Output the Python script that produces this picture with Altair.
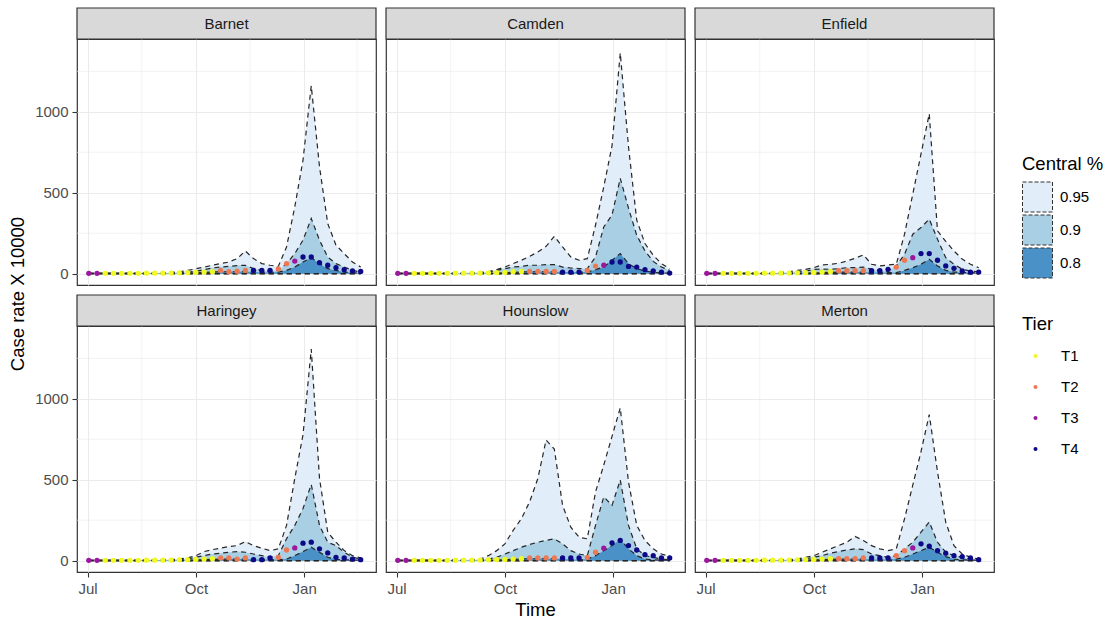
import altair as alt
import pandas as pd

BOROUGHS = ["Barnet", "Camden", "Enfield", "Haringey", "Hounslow", "Merton"]

DATES = ["2020-07-02", "2020-07-09", "2020-07-16", "2020-07-23", "2020-07-30",
         "2020-08-06", "2020-08-13", "2020-08-20", "2020-08-27",
         "2020-09-03", "2020-09-10", "2020-09-17", "2020-09-24",
         "2020-10-01", "2020-10-08", "2020-10-15", "2020-10-22", "2020-10-29",
         "2020-11-05", "2020-11-12", "2020-11-19", "2020-11-26",
         "2020-12-03", "2020-12-10", "2020-12-17", "2020-12-24", "2020-12-31",
         "2021-01-07", "2021-01-14", "2021-01-21", "2021-01-28",
         "2021-02-04", "2021-02-11", "2021-02-18"]

TIERS = (["T3", "T3"] + ["T1"] * 14 + ["T2"] * 4 + ["T4"] * 3
         + ["T2"] * 2 + ["T3"] + ["T4"] * 8)

LOWER = 0

BARNET_OBS = [2, 2, 2, 2, 2, 2, 2, 3, 3, 3, 4, 5, 6, 8, 10, 12,
              20, 12, 15, 20, 20, 20, 20,
              29, 62, 78, 103, 103, 68, 52, 37, 25, 17, 14]
BARNET_Q95 = [3, 3, 3, 3, 3, 3, 3, 4, 5, 6, 8, 12, 20, 30, 41, 52,
              62, 72, 93, 140, 93, 62, 52,
              45, 165, 413, 702, 1161, 661, 310, 176, 124, 72, 41]
BARNET_Q90 = [2, 2, 2, 2, 2, 2, 2, 2, 3, 3, 4, 5, 8, 15, 25, 35,
              41, 45, 50, 52, 31, 20, 16,
              20, 62, 124, 207, 341, 207, 103, 62, 41, 20, 10]
BARNET_Q80 = [1, 1, 1, 1, 1, 1, 1, 1, 2, 2, 2, 3, 4, 6, 8, 10,
              12, 12, 12, 12, 10, 8, 8,
              10, 20, 41, 72, 99, 62, 31, 20, 10, 5, 4]

CAMDEN_OBS = [2, 2, 2, 2, 2, 2, 2, 3, 3, 3, 4, 5, 6, 8, 12, 14,
              14, 14, 14, 14, 10, 10, 10,
              20, 47, 52, 72, 72, 45, 41, 25, 17, 10, 4]
CAMDEN_Q95 = [3, 3, 3, 3, 3, 3, 3, 4, 5, 6, 8, 12, 25, 41, 62, 83,
              107, 134, 169, 231, 165, 103, 83,
              93, 300, 537, 790, 1364, 785, 331, 186, 114, 62, 31]
CAMDEN_Q90 = [2, 2, 2, 2, 2, 2, 2, 3, 3, 4, 5, 8, 20, 31, 41, 45,
              52, 52, 56, 56, 41, 35, 31,
              31, 103, 289, 362, 589, 405, 237, 140, 76, 41, 20]
CAMDEN_Q80 = [1, 1, 1, 1, 1, 1, 1, 1, 2, 2, 2, 3, 4, 6, 8, 10,
              12, 12, 12, 12, 10, 10, 10,
              10, 25, 41, 83, 124, 62, 31, 17, 8, 5, 3]

ENFIELD_OBS = [2, 2, 2, 2, 2, 2, 2, 3, 3, 3, 4, 5, 6, 8, 10, 12,
               18, 18, 18, 18, 18, 18, 27,
               41, 83, 99, 124, 124, 83, 48, 33, 17, 10, 10]
ENFIELD_Q95 = [3, 3, 3, 3, 3, 3, 3, 4, 5, 8, 12, 20, 27, 37, 54, 58,
               64, 78, 95, 116, 58, 48, 54,
               58, 244, 492, 740, 988, 264, 200, 140, 90, 58, 37]
ENFIELD_Q90 = [2, 2, 2, 2, 2, 2, 2, 3, 3, 4, 6, 10, 15, 27, 29, 27,
               31, 37, 37, 41, 27, 20, 16,
               48, 120, 244, 285, 337, 213, 99, 58, 27, 16, 12]
ENFIELD_Q80 = [1, 1, 1, 1, 1, 1, 1, 1, 2, 2, 2, 3, 4, 5, 6, 8,
               10, 10, 10, 10, 8, 8, 8,
               6, 20, 37, 58, 89, 48, 20, 10, 8, 6, 5]

HARINGEY_OBS = [2, 2, 2, 2, 2, 2, 2, 3, 3, 3, 4, 5, 6, 8, 10, 12,
                17, 17, 10, 17, 6, 6, 17,
                21, 66, 79, 108, 114, 73, 48, 21, 17, 10, 6]
HARINGEY_Q95 = [3, 3, 3, 3, 3, 3, 3, 4, 5, 6, 8, 10, 17, 31, 56, 68,
                77, 87, 93, 118, 93, 77, 62,
                73, 218, 508, 778, 1307, 509, 176, 114, 62, 31, 17]
HARINGEY_Q90 = [2, 2, 2, 2, 2, 2, 2, 3, 3, 4, 5, 8, 10, 21, 31, 41,
                46, 52, 56, 52, 41, 31, 21,
                31, 135, 218, 322, 471, 218, 114, 93, 52, 21, 10]
HARINGEY_Q80 = [1, 1, 1, 1, 1, 1, 1, 1, 2, 2, 2, 3, 4, 5, 6, 8,
                10, 10, 10, 10, 8, 8, 8,
                5, 10, 31, 56, 83, 52, 21, 8, 5, 4, 3]

HOUNSLOW_OBS = [2, 2, 2, 2, 2, 2, 2, 3, 3, 3, 4, 5, 6, 8, 10, 12,
                17, 17, 17, 17, 17, 17, 17,
                21, 52, 77, 110, 125, 93, 66, 37, 31, 17, 17]
HOUNSLOW_Q95 = [3, 3, 3, 3, 3, 3, 3, 4, 5, 6, 10, 31, 62, 104, 187, 259,
                363, 508, 745, 690, 342, 207, 145,
                135, 425, 591, 768, 944, 487, 218, 125, 73, 41, 27]
HOUNSLOW_Q90 = [2, 2, 2, 2, 2, 2, 2, 3, 3, 4, 6, 10, 21, 41, 62, 83,
                100, 114, 125, 135, 104, 62, 41,
                31, 218, 394, 342, 498, 218, 73, 31, 21, 10, 6]
HOUNSLOW_Q80 = [1, 1, 1, 1, 1, 1, 1, 1, 2, 2, 2, 3, 4, 6, 8, 10,
                12, 12, 12, 12, 10, 8, 5,
                10, 31, 62, 93, 131, 73, 31, 10, 5, 4, 3]

MERTON_OBS = [2, 2, 2, 2, 2, 2, 2, 3, 3, 3, 4, 5, 6, 8, 10, 12,
              12, 12, 12, 17, 17, 17, 17,
              31, 62, 79, 104, 89, 62, 46, 31, 25, 17, 6]
MERTON_Q95 = [3, 3, 3, 3, 3, 3, 3, 4, 5, 6, 8, 10, 21, 31, 52, 73,
              93, 114, 149, 125, 93, 73, 62,
              73, 259, 467, 674, 903, 550, 238, 93, 41, 21, 10]
MERTON_Q90 = [2, 2, 2, 2, 2, 2, 2, 3, 3, 4, 5, 8, 12, 21, 31, 46,
              56, 66, 73, 68, 41, 31, 21,
              31, 73, 114, 176, 239, 114, 52, 31, 21, 10, 6]
MERTON_Q80 = [1, 1, 1, 1, 1, 1, 1, 1, 2, 2, 2, 3, 4, 5, 6, 8,
              10, 10, 10, 10, 8, 8, 8,
              10, 21, 41, 62, 83, 52, 25, 10, 5, 4, 3]

LEVELS = ["0.95", "0.9", "0.8"]
LEVEL_COLORS = ["#E1EDF8", "#A9CFE5", "#4A91C8"]
TIER_NAMES = ["T1", "T2", "T3", "T4"]
TIER_COLORS = ["#F0F921", "#ED7953", "#9C179E", "#0D0887"]

Y_TICKS = [0, 500, 1000]
Y_MINOR = [250, 750, 1250]
X_MINOR = ["2020-08-16", "2020-11-16", "2021-02-15"]

Y_TITLE = "Case rate X 10000"
X_TITLE = "Time"

SERIES = {
    "Barnet": (BARNET_OBS, BARNET_Q95, BARNET_Q90, BARNET_Q80),
    "Camden": (CAMDEN_OBS, CAMDEN_Q95, CAMDEN_Q90, CAMDEN_Q80),
    "Enfield": (ENFIELD_OBS, ENFIELD_Q95, ENFIELD_Q90, ENFIELD_Q80),
    "Haringey": (HARINGEY_OBS, HARINGEY_Q95, HARINGEY_Q90, HARINGEY_Q80),
    "Hounslow": (HOUNSLOW_OBS, HOUNSLOW_Q95, HOUNSLOW_Q90, HOUNSLOW_Q80),
    "Merton": (MERTON_OBS, MERTON_Q95, MERTON_Q90, MERTON_Q80),
}

rows = []
for b in BOROUGHS:
    obs, q95, q90, q80 = SERIES[b]
    for d, t, v in zip(DATES, TIERS, obs):
        rows.append(dict(kind="pt", borough=b, date=d, value=v, tier=t))
    for level, ups in zip(LEVELS, (q95, q90, q80)):
        for d, u in zip(DATES, ups):
            rows.append(dict(kind="band", borough=b, date=d, level=level,
                             lower=LOWER, upper=u))
    rows.append(dict(kind="strip", borough=b))
    for g in Y_MINOR:
        rows.append(dict(kind="gy", borough=b, value=g))
    for g in X_MINOR:
        rows.append(dict(kind="gx", borough=b, date=g))

df = pd.DataFrame(rows)
df["date"] = pd.to_datetime(df["date"])

FONT = "Liberation Sans"
W, H = 299, 246

XS = alt.Scale(domain=[alt.DateTime(year=2020, month=6, date=22),
                       alt.DateTime(year=2021, month=3, date=3)])
XAXIS = alt.Axis(values=[alt.DateTime(year=2020, month=7, date=1),
                         alt.DateTime(year=2020, month=10, date=1),
                         alt.DateTime(year=2021, month=1, date=1)],
                 format="%b", title=None, labelFlush=False,
                 labelPadding=4)
YS = alt.Scale(domain=[-70, 1450], nice=False, zero=False)
YAXIS = alt.Axis(values=Y_TICKS, title=None, format="d", labelPadding=4)

X = alt.X("date:T", scale=XS, axis=XAXIS)


def Y(field):
    return alt.Y(f"{field}:Q", scale=YS, axis=YAXIS)


FILL = alt.Fill("level:N", scale=alt.Scale(domain=LEVELS, range=LEVEL_COLORS),
                legend=alt.Legend(title="Central %", orient="none",
                                  legendX=945, legendY=116,
                                  symbolType="square", symbolSize=900,
                                  symbolStrokeColor="#333333",
                                  symbolStrokeWidth=1, symbolDash=[4, 2],
                                  symbolOpacity=1,
                                  rowPadding=-10, labelOffset=7,
                                  titlePadding=8, padding=0))
COLOR = alt.Color("tier:N", scale=alt.Scale(domain=TIER_NAMES, range=TIER_COLORS),
                  legend=alt.Legend(title="Tier", orient="none",
                                    legendX=945, legendY=276,
                                    symbolType="circle", symbolSize=16,
                                    symbolOffset=6, labelOffset=18,
                                    rowPadding=15, titlePadding=15,
                                    padding=0))

base = alt.Chart(df)

grid_x = base.mark_rule(color="#EBEBEB", strokeWidth=0.6).encode(
    x=X).transform_filter(alt.datum.kind == "gx")
grid_y = base.mark_rule(color="#EBEBEB", strokeWidth=0.6).encode(
    y=Y("value")).transform_filter(alt.datum.kind == "gy")

areas = [
    base.mark_area(opacity=1).encode(x=X, y=Y("upper"), y2="lower:Q", fill=FILL)
    .transform_filter((alt.datum.kind == "band") & (alt.datum.level == lv))
    for lv in LEVELS
]

upper_lines = base.mark_line(color="#262626", strokeWidth=1.2,
                             strokeDash=[5, 4]).encode(
    x=X, y=Y("upper"), detail="level:N").transform_filter(alt.datum.kind == "band")
lower_lines = base.mark_line(color="#262626", strokeWidth=1.2,
                             strokeDash=[5, 4]).encode(
    x=X, y=Y("lower"), detail="level:N").transform_filter(alt.datum.kind == "band")

points = base.mark_circle(size=28, opacity=1).encode(
    x=X, y=Y("value"), color=COLOR).transform_filter(alt.datum.kind == "pt")

strip_bg = base.mark_rect(fill="#D9D9D9", stroke="#333333", strokeWidth=1.2).encode(
    x=alt.value(0), x2=alt.value(W), y=alt.value(-31), y2=alt.value(0)
).transform_filter(alt.datum.kind == "strip")
strip_txt = base.mark_text(fontSize=15, color="#1A1A1A", font=FONT).encode(
    x=alt.value(W / 2), y=alt.value(-15.5), text="borough:N"
).transform_filter(alt.datum.kind == "strip")

y_title = base.mark_text(fontSize=18.5, color="#000000", font=FONT,
                         angle=270).encode(
    x=alt.value(-59), y=alt.value(H + 9), text=alt.value(Y_TITLE)
).transform_filter((alt.datum.kind == "strip") & (alt.datum.borough == "Barnet"))
x_title = base.mark_text(fontSize=18.5, color="#000000", font=FONT).encode(
    x=alt.value(W / 2), y=alt.value(H + 38), text=alt.value(X_TITLE)
).transform_filter((alt.datum.kind == "strip") & (alt.datum.borough == "Hounslow"))

layered = alt.layer(grid_x, grid_y, *areas, upper_lines, lower_lines, points,
                    strip_bg, strip_txt, y_title, x_title).properties(width=W, height=H)

chart = layered.facet(
    facet=alt.Facet("borough:N", sort=BOROUGHS, title=None,
                    header=alt.Header(labels=False, labelExpr="''",
                                      labelFontSize=1, labelPadding=0)),
    columns=3,
    spacing={"row": 41, "column": 10},
    bounds="flush",
).properties(
    padding={"left": 8, "top": 5, "right": 0, "bottom": 0}
).configure(font=FONT).configure_view(
    stroke="#333333", strokeWidth=1.2
).configure_header(
    labels=False
).configure_axis(
    domain=False, grid=True, gridColor="#EBEBEB", gridWidth=1.1,
    tickColor="#333333", tickSize=5, tickWidth=1.1,
    labelColor="#4D4D4D", labelFontSize=15, labelFont=FONT,
).configure_legend(
    labelFontSize=15, titleFontSize=18.5, titleFontWeight="normal",
    labelColor="#000000", titleColor="#000000", labelFont=FONT, titleFont=FONT,
)

chart.save("out.html", embed_options={"renderer": "svg", "actions": False})
